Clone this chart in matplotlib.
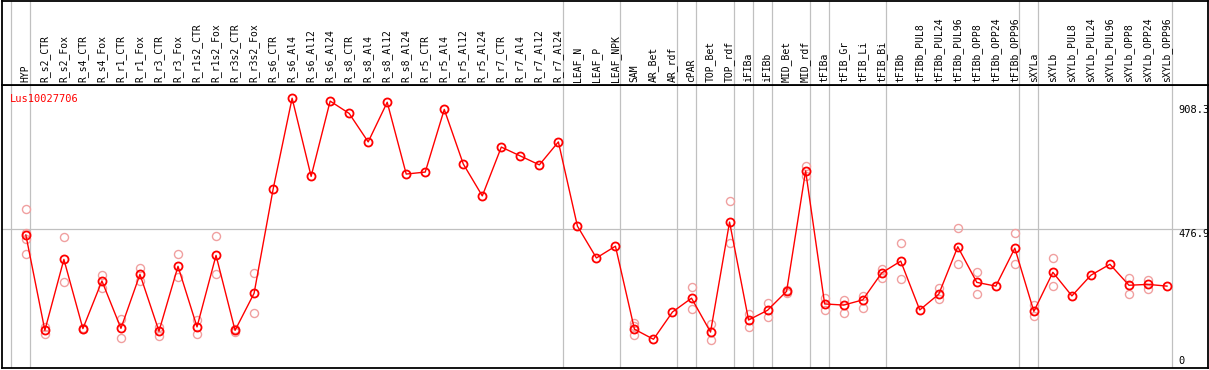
import matplotlib
matplotlib.use('Agg')
import matplotlib.pyplot as plt
import numpy as np

gene = 'Lus10027706'

samples = ['HYP',
           'R_s2_CTR', 'R_s2_Fox', 'R_s4_CTR', 'R_s4_Fox', 'R_r1_CTR', 'R_r1_Fox',
           'R_r3_CTR', 'R_r3_Fox', 'R_r1s2_CTR', 'R_r1s2_Fox', 'R_r3s2_CTR', 'R_r3s2_Fox',
           'R_s6_CTR', 'R_s6_Al4', 'R_s6_Al12', 'R_s6_Al24',
           'R_s8_CTR', 'R_s8_Al4', 'R_s8_Al12', 'R_s8_Al24',
           'R_r5_CTR', 'R_r5_Al4', 'R_r5_Al12', 'R_r5_Al24',
           'R_r7_CTR', 'R_r7_Al4', 'R_r7_Al12', 'R_r7_Al24',
           'LEAF_N', 'LEAF_P', 'LEAF_NPK',
           'SAM', 'AR_Bet', 'AR_rdf', 'cPAR', 'TOP_Bet', 'TOP_rdf',
           'iFIBa', 'iFIBb', 'MID_Bet', 'MID_rdf',
           'tFIBa', 'tFIB_Gr', 'tFIB_Li', 'tFIB_Bi',
           'tFIBb', 'tFIBb_PUL8', 'tFIBb_PUL24', 'tFIBb_PUL96',
           'tFIBb_OPP8', 'tFIBb_OPP24', 'tFIBb_OPP96',
           'sXYLa', 'sXYLb', 'sXYLb_PUL8', 'sXYLb_PUL24', 'sXYLb_PUL96',
           'sXYLb_OPP8', 'sXYLb_OPP24', 'sXYLb_OPP96']

# mean expression per sample
means = [456,
         124, 371, 130, 296, 131, 319, 121, 347, 136, 385, 124, 253,
         615, 932, 660, 922, 879, 780, 918, 668, 675, 893, 703, 592,
         762, 731, 700, 780,
         487, 376, 417,
         128, 93, 188, 236, 118, 501,
         160, 194, 260, 679,
         216, 212, 230, 324,
         365, 195, 250, 415, 291, 278, 410,
         190, 326, 244, 316, 354, 281, 284, 278]

# individual replicates (faint circles)
replicates = [[545, 462, 441, 390],
              [137, 111], [448, 291], [128, 133], [317, 273], [162, 99], [340, 296],
              [137, 106], [390, 309], [160, 110], [451, 321], [128, 118], [323, 183],
              [], [], [], [], [], [], [], [], [], [], [], [], [], [], [], [],
              [], [], [],
              [149, 108, 140], [], [], [274, 197], [146, 89], [573, 429],
              [181, 137], [218, 169], [255, 265], [697, 662],
              [236, 194], [230, 183], [245, 201], [336, 305],
              [427, 302], [], [270, 232], [479, 354], [326, 252], [], [462, 354],
              [212, 175], [375, 277], [], [], [], [306, 252], [300, 268], []]

# number of samples in each block separated by grey lines
group_sizes = [1, 28, 3, 3, 1, 2, 1, 1, 2, 1, 3, 7, 1, 7]

axis_marks = [908.3, 476.9, 0]

W, H = 1209, 370
fig = plt.figure(figsize=(W / 100, H / 100), dpi=100)
fig.patch.set_facecolor('white')
plt.rcParams['font.family'] = ['DejaVu Sans Mono']

left = 1.5 / W
width = (1207.5 - 1.5) / W
ax = fig.add_axes([left, 2 / H, width, (368 - 85) / H])
axl = fig.add_axes([left, (370 - 85) / H, width, (85 - 0.5) / H], sharex=ax)

x = np.arange(len(samples))
ax.set_xlim(-1.28, 62.13)
ax.set_ylim(-7, 978)
axl.set_ylim(0, 1)

bounds = np.concatenate([[-1], np.cumsum(group_sizes) - 1]) + 0.24
for a in (ax, axl):
    for b in bounds:
        a.axvline(b, color='#c0c0c0', lw=0.9, zorder=0)
    a.set_xticks([])
    a.set_yticks([])
    for s in a.spines.values():
        s.set_color('black')
        s.set_linewidth(1.3)

ax.axhline(476.9, color='#c0c0c0', lw=0.9, zorder=0)

for i, reps in enumerate(replicates):
    if reps:
        ax.plot([i] * len(reps), reps, 'o', ms=5.8, mfc='none', mec='#f0a0a0',
                mew=1.0, zorder=2, clip_on=False)

ax.plot(x, means, '-', color='red', lw=1.0, zorder=3)
ax.plot(x, means, 'o', ms=5.8, mfc='none', mec='red', mew=1.3, zorder=4)

for i, name in enumerate(samples):
    axl.text(i, 0.03, name, rotation=90, ha='center', va='bottom',
             fontsize=7, color='black')

ax.text(-0.85, 930, gene, color='red', fontsize=7.5, ha='left', va='center')

for v in axis_marks:
    ax.text(60.6, v, f'{v:g}', fontsize=7.5, ha='left',
            va='bottom' if v == 0 else 'top', color='black')

fig.savefig('out.png', dpi=100)
